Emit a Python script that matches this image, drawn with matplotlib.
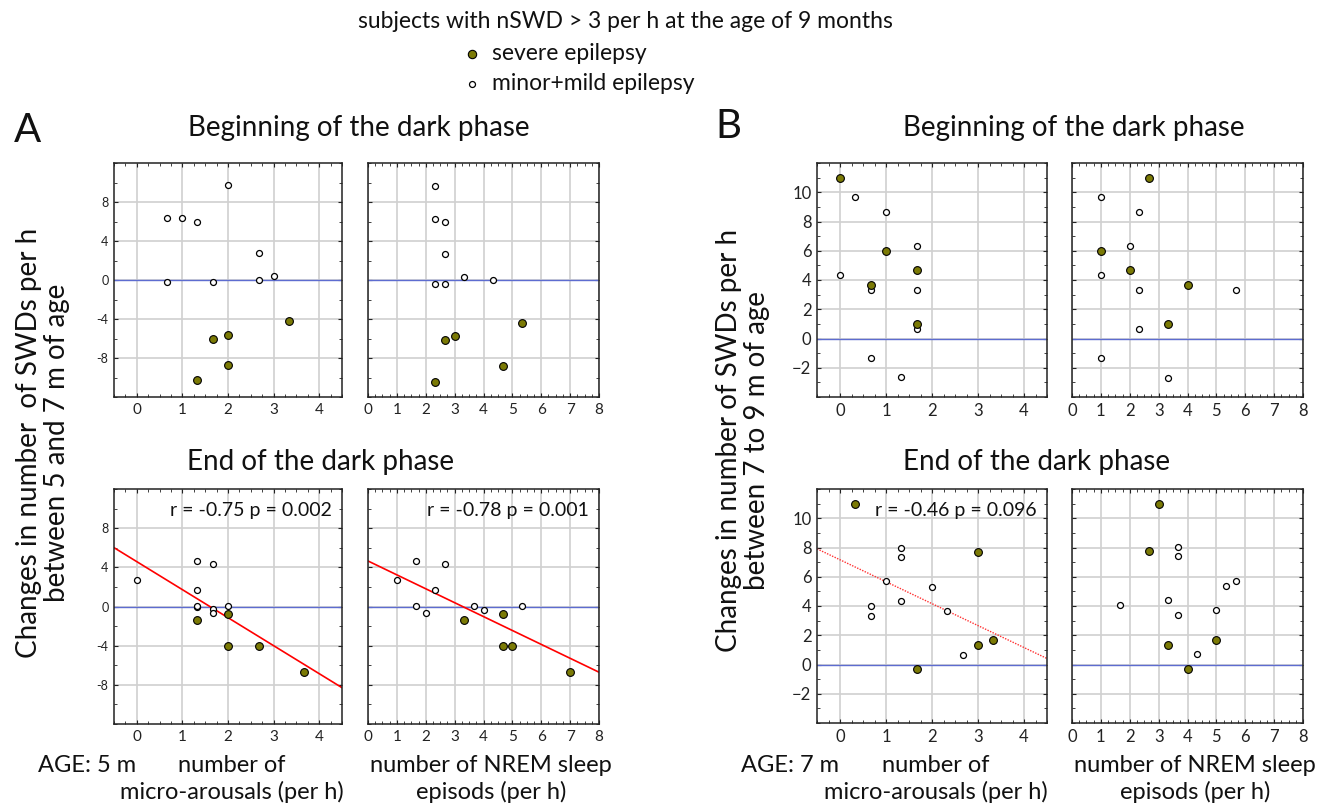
import numpy as np
import matplotlib
matplotlib.use("Agg")
import matplotlib.pyplot as plt
from matplotlib.ticker import MultipleLocator, FixedLocator, FixedFormatter

plt.rcParams['font.family'] = ['Lato', 'DejaVu Sans']

# ---- data ----
# A: age 5 m, beginning of dark phase, x = micro-arousals
a_beg_micro_sev_x = [3.33, 2.0, 1.67, 2.0, 1.33]
a_beg_micro_sev_y = [-4.25, -5.6, -6.0, -8.67, -10.3]
a_beg_micro_mild_x = [2.0, 0.67, 1.0, 1.33, 2.67, 0.67, 1.67, 2.67, 3.0]
a_beg_micro_mild_y = [9.7, 6.4, 6.4, 6.0, 2.75, -0.25, -0.25, 0.05, 0.4]
# A: beginning, x = NREM episodes
a_beg_nrem_sev_x = [5.33, 3.0, 2.67, 4.67, 2.33]
a_beg_nrem_sev_y = [-4.4, -5.75, -6.15, -8.87, -10.45]
a_beg_nrem_mild_x = [2.33, 2.33, 2.67, 2.67, 2.33, 2.67, 3.33, 4.33]
a_beg_nrem_mild_y = [9.66, 6.3, 5.95, 2.62, -0.37, -0.37, 0.27, -0.03]
# A: end of dark phase
a_end_micro_sev_x = [1.33, 2.0, 2.0, 2.67, 3.67]
a_end_micro_sev_y = [-1.33, -0.72, -4.0, -4.0, -6.67]
a_end_micro_mild_x = [0.0, 1.33, 1.67, 1.33, 1.33, 1.33, 1.67, 1.67, 2.0]
a_end_micro_mild_y = [2.73, 4.68, 4.37, 1.7, 0.0, 0.06, -0.24, -0.69, 0.06]
a_end_nrem_sev_x = [3.33, 4.67, 4.67, 5.0, 7.0]
a_end_nrem_sev_y = [-1.37, -0.72, -4.03, -4.03, -6.73]
a_end_nrem_mild_x = [1.0, 1.67, 2.67, 2.33, 1.67, 2.0, 3.67, 4.0, 5.33]
a_end_nrem_mild_y = [2.7, 4.65, 4.38, 1.71, 0.04, -0.68, 0.04, -0.31, 0.04]
a_end_micro_fit = (-2.86, 4.58)   # slope, intercept
a_end_nrem_fit = (-1.42, 4.65)
a_end_micro_stat = "r = -0.75 p = 0.002"
a_end_nrem_stat = "r = -0.78 p = 0.001"

# B: age 7 m, beginning of dark phase
b_beg_micro_sev_x = [0.0, 1.0, 1.67, 0.67, 1.67]
b_beg_micro_sev_y = [11.0, 6.0, 4.68, 3.66, 1.0]
b_beg_micro_mild_x = [0.33, 1.0, 1.67, 0.0, 0.67, 1.67, 1.67, 0.67, 1.33]
b_beg_micro_mild_y = [9.7, 8.68, 6.34, 4.36, 3.34, 3.34, 0.68, -1.3, -2.66]
b_beg_nrem_sev_x = [2.67, 1.0, 2.0, 4.0, 3.33]
b_beg_nrem_sev_y = [11.0, 5.98, 4.67, 3.67, 1.0]
b_beg_nrem_mild_x = [1.0, 2.33, 2.0, 1.0, 2.33, 5.67, 2.33, 1.0, 3.33]
b_beg_nrem_mild_y = [9.7, 8.68, 6.33, 4.36, 3.34, 3.34, 0.68, -1.31, -2.67]
# B: end of dark phase
b_end_micro_sev_x = [0.33, 3.0, 3.0, 3.33, 1.67]
b_end_micro_sev_y = [11.0, 7.68, 1.32, 1.68, -0.3]
b_end_micro_mild_x = [1.33, 1.33, 1.0, 2.0, 1.33, 0.67, 0.67, 2.33, 2.67]
b_end_micro_mild_y = [8.0, 7.38, 5.68, 5.32, 4.36, 4.0, 3.32, 3.68, 0.68]
b_end_nrem_sev_x = [3.0, 2.67, 3.33, 5.0, 4.0]
b_end_nrem_sev_y = [11.0, 7.73, 1.34, 1.68, -0.29]
b_end_nrem_mild_x = [3.67, 3.67, 5.67, 5.33, 1.67, 3.33, 3.67, 5.0, 4.33]
b_end_nrem_mild_y = [8.02, 7.41, 5.7, 5.36, 4.05, 4.41, 3.37, 3.7, 0.71]
b_end_micro_fit = (-1.50, 7.16)
b_end_micro_stat = "r = -0.46 p = 0.096"

a_yticks = [-8, -4, 0, 4, 8]
a_yticklabels = ["-8", "-4", "0", "4", "8"]
b_yticks = [-2, 0, 2, 4, 6, 8, 10]
b_yticklabels = ["\u22122", "0", "2", "4", "6", "8", "10"]
micro_xticks = [0, 1, 2, 3, 4]
nrem_xticks = [0, 1, 2, 3, 4, 5, 6, 7, 8]

SEV = '#7b7a05'
W, H = 1323, 807


def add_ax(fig, x0, y0, x1, y1):
    return fig.add_axes([x0 / W, 1 - y1 / H, (x1 - x0) / W, (y1 - y0) / H])


def style(ax, xlim, ylim, xticks, yticks, ylabels, xminor, yminor, xfs, yfs):
    ax.set_xlim(*xlim)
    ax.set_ylim(*ylim)
    ax.xaxis.set_major_locator(FixedLocator(xticks))
    ax.yaxis.set_major_locator(FixedLocator(yticks))
    ax.xaxis.set_minor_locator(MultipleLocator(xminor))
    ax.yaxis.set_minor_locator(MultipleLocator(yminor))
    if ylabels is None:
        ax.set_yticklabels([])
    else:
        ax.yaxis.set_major_formatter(FixedFormatter(ylabels))
    ax.set_xticklabels([str(t) for t in xticks])
    ax.grid(True, which='major', color='#d0d0d0', lw=1.2)
    ax.set_axisbelow(True)
    ax.tick_params(which='both', direction='in', top=True, right=True, color='#222222')
    ax.tick_params(which='major', length=3, width=0.8)
    ax.tick_params(which='minor', length=2, width=0.6)
    ax.tick_params(axis='x', labelsize=xfs, pad=4, colors='#222222')
    ax.tick_params(axis='y', labelsize=yfs, pad=4, colors='#222222')
    for s in ax.spines.values():
        s.set_linewidth(1.1)
        s.set_color('#222222')
    ax.axhline(0, color='#5d6cd0', lw=1.0, zorder=1.5)


def points(ax, sx, sy, mx, my):
    ax.plot(mx, my, 'o', ms=4.3, mfc='white', mec='black', mew=0.9, ls='none', zorder=3)
    ax.plot(sx, sy, 'o', ms=5.6, mfc=SEV, mec='black', mew=0.8, ls='none', zorder=4)


def stat(ax, s):
    ax.text(0.955, 0.91, s, transform=ax.transAxes, ha='right', va='center',
            fontsize=14, color='#111111')


fig = plt.figure(figsize=(W / 100, H / 100), dpi=100)

# ---- panel A ----
ax = add_ax(fig, 114, 163, 342, 397)
style(ax, (-0.5, 4.5), (-12, 12), micro_xticks, a_yticks, a_yticklabels, 0.25, 2, 11, 9)
points(ax, a_beg_micro_sev_x, a_beg_micro_sev_y, a_beg_micro_mild_x, a_beg_micro_mild_y)

ax = add_ax(fig, 368, 163, 599, 397)
style(ax, (0, 8), (-12, 12), nrem_xticks, a_yticks, None, 0.25, 2, 11, 9)
points(ax, a_beg_nrem_sev_x, a_beg_nrem_sev_y, a_beg_nrem_mild_x, a_beg_nrem_mild_y)

ax = add_ax(fig, 114, 489, 342, 724)
style(ax, (-0.5, 4.5), (-12, 12), micro_xticks, a_yticks, a_yticklabels, 0.25, 2, 11, 9)
ax.axline((0, a_end_micro_fit[1]), slope=a_end_micro_fit[0], color='red', lw=1.2, zorder=2)
points(ax, a_end_micro_sev_x, a_end_micro_sev_y, a_end_micro_mild_x, a_end_micro_mild_y)
stat(ax, a_end_micro_stat)

ax = add_ax(fig, 368, 489, 599, 724)
style(ax, (0, 8), (-12, 12), nrem_xticks, a_yticks, None, 0.25, 2, 11, 9)
ax.axline((0, a_end_nrem_fit[1]), slope=a_end_nrem_fit[0], color='red', lw=1.2, zorder=2)
points(ax, a_end_nrem_sev_x, a_end_nrem_sev_y, a_end_nrem_mild_x, a_end_nrem_mild_y)
stat(ax, a_end_nrem_stat)

# ---- panel B ----
ax = add_ax(fig, 817, 163, 1047, 397)
style(ax, (-0.5, 4.5), (-4, 12), micro_xticks, b_yticks, b_yticklabels, 0.25, 1, 12, 12)
points(ax, b_beg_micro_sev_x, b_beg_micro_sev_y, b_beg_micro_mild_x, b_beg_micro_mild_y)

ax = add_ax(fig, 1072, 163, 1303, 397)
style(ax, (0, 8), (-4, 12), nrem_xticks, b_yticks, None, 0.25, 1, 12, 12)
points(ax, b_beg_nrem_sev_x, b_beg_nrem_sev_y, b_beg_nrem_mild_x, b_beg_nrem_mild_y)

ax = add_ax(fig, 817, 489, 1047, 723)
style(ax, (-0.5, 4.5), (-4, 12), micro_xticks, b_yticks, b_yticklabels, 0.25, 1, 12, 12)
ax.axline((0, b_end_micro_fit[1]), slope=b_end_micro_fit[0], color='#ff3030', lw=1.0,
          ls=(0, (1, 1)), zorder=2)
points(ax, b_end_micro_sev_x, b_end_micro_sev_y, b_end_micro_mild_x, b_end_micro_mild_y)
stat(ax, b_end_micro_stat)

ax = add_ax(fig, 1072, 489, 1303, 723)
style(ax, (0, 8), (-4, 12), nrem_xticks, b_yticks, None, 0.25, 1, 12, 12)
points(ax, b_end_nrem_sev_x, b_end_nrem_sev_y, b_end_nrem_mild_x, b_end_nrem_mild_y)

# ---- text ----
def ftext(x, y, s, **kw):
    kw.setdefault('fontsize', 16.5)
    kw.setdefault('color', '#111111')
    fig.text(x / W, 1 - y / H, s, **kw)

ftext(358, 22, "subjects with nSWD > 3 per h at the age of 9 months", ha='left', va='center')
fig.lines.append(plt.Line2D([472 / W], [1 - 54 / H], marker='o', ms=6, mfc=SEV, mec='black',
                            mew=0.8, transform=fig.transFigure))
fig.lines.append(plt.Line2D([472 / W], [1 - 84 / H], marker='o', ms=4.3, mfc='white', mec='black',
                            mew=0.9, transform=fig.transFigure))
ftext(492, 53, "severe epilepsy", ha='left', va='center')
ftext(492, 84, "minor+mild epilepsy", ha='left', va='center')

ftext(28, 130, "A", fontsize=29, ha='center', va='center')
ftext(728, 127, "B", fontsize=29, ha='center', va='center')

ftext(188, 128, "Beginning of the dark phase", ha='left', va='center', fontsize=20)
ftext(903, 128, "Beginning of the dark phase", ha='left', va='center', fontsize=20)
ftext(187, 462, "End of the dark phase", ha='left', va='center', fontsize=20)
ftext(903, 462, "End of the dark phase", ha='left', va='center', fontsize=20)

ftext(43, 443, "Changes in number  of SWDs per h\nbetween 5 and 7 m of age", rotation=90,
      ha='center', va='center', fontsize=20, linespacing=1.05)
ftext(743, 440, "Changes in number of SWDs per h\nbetween 7 to 9 m of age", rotation=90,
      ha='center', va='center', fontsize=20, linespacing=1.05)

for x0, age in [(38, "AGE: 5 m"), (741, "AGE: 7 m")]:
    ftext(x0, 766, age, ha='left', va='center', fontsize=17)
for xc in [232, 936]:
    ftext(xc, 766, "number of", ha='center', va='center', fontsize=17)
    ftext(xc, 792, "micro-arousals (per h)", ha='center', va='center', fontsize=17)
for xc in [491, 1195]:
    ftext(xc, 766, "number of NREM sleep", ha='center', va='center', fontsize=17)
    ftext(xc, 792, "episods (per h)", ha='center', va='center', fontsize=17)

fig.savefig("out.png", dpi=100)
